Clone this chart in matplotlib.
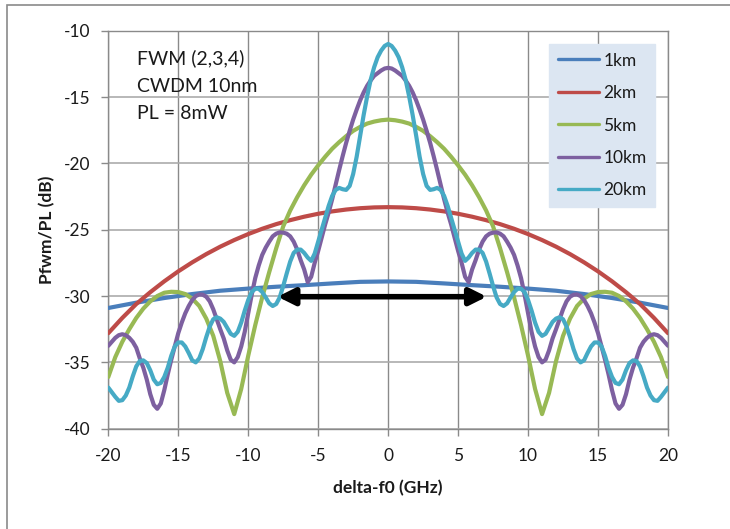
import numpy as np
import matplotlib
matplotlib.use("Agg")
import matplotlib.pyplot as plt
from matplotlib.patches import Rectangle

plt.rcParams['font.family'] = ['Lato', 'DejaVu Sans']
plt.rcParams['axes.unicode_minus'] = False

# curves are symmetric about 0, values read for delta-f0 >= 0 (GHz)
f_1km = [0, 2, 4, 6, 8, 10, 12, 14, 16, 18, 20]
p_1km = [-28.9, -28.93, -29.05, -29.18, -29.3, -29.44, -29.6, -29.85, -30.15, -30.5, -30.9]

f_2km = [0, 1, 2, 3, 4, 5, 6, 7, 8, 9, 10, 11, 12, 13, 14, 15, 16, 17, 18, 19, 20]
p_2km = [-23.3, -23.32, -23.38, -23.48, -23.62, -23.8, -24.02, -24.28, -24.58, -24.93, -25.33,
         -25.78, -26.28, -26.84, -27.46, -28.14, -28.89, -29.71, -30.6, -31.65, -32.8]

f_5km = [0, 0.5, 1, 1.5, 2, 2.5, 3, 3.5, 4, 4.5, 5, 5.5, 6, 6.5, 7, 7.5, 8, 8.5, 9, 9.5,
         10, 10.5, 11, 11.5, 12, 12.5, 13, 13.5, 14, 14.5, 15, 15.5, 16, 16.5, 17, 17.5,
         18, 18.5, 19, 19.5, 20]
p_5km = [-16.7, -16.75, -16.85, -17.0, -17.25, -17.55, -17.95, -18.4, -18.9, -19.5,
         -20.15, -20.85, -21.65, -22.55, -23.55, -24.75, -26.4, -28.2, -30.1, -32.2,
         -34.5, -37.0, -38.9, -37.3, -34.9, -33.0, -31.7, -30.75, -30.2, -29.85,
         -29.7, -29.68, -29.75, -30.0, -30.4, -30.95, -31.65, -32.5, -33.45, -34.6, -36.1]

f_fine = np.linspace(0, 20, 81)  # 0.25 GHz reading grid
p_10km = [-12.8, -12.85, -13.0, -13.2, -13.4, -13.75, -14.15, -14.65, -15.25, -15.95,
          -16.7, -17.55, -18.45, -19.45, -20.5, -21.6, -22.7, -23.7, -24.6, -25.6,
          -26.6, -27.5, -28.55, -28.95, -28.0, -27.3, -26.5, -25.9, -25.5, -25.3,
          -25.22, -25.2, -25.3, -25.5, -25.9, -26.35, -26.9, -27.7, -28.65, -29.9,
          -31.3, -32.7, -33.8, -34.6, -35.0, -34.8, -34.1, -33.2, -32.5, -31.75,
          -31.0, -30.4, -30.05, -29.9, -29.88, -30.0, -30.3, -30.75, -31.3, -32.0,
          -32.8, -33.8, -34.8, -35.9, -37.1, -38.1, -38.5, -38.2, -37.4, -36.3,
          -35.4, -34.7, -33.9, -33.45, -33.15, -32.95, -32.88, -32.95, -33.15, -33.45, -33.75]
p_20km = [-11.0, -11.15, -11.5, -12.0, -12.75, -13.7, -14.95, -16.35, -17.9, -19.5,
          -20.8, -21.7, -22.0, -21.95, -21.85, -22.0, -22.45, -23.2, -24.1, -25.0,
          -25.9, -26.8, -27.35, -27.1, -26.75, -26.5, -26.5, -26.75, -27.4, -28.3,
          -29.25, -30.1, -30.6, -30.75, -30.55, -30.1, -29.7, -29.45, -29.45, -29.7,
          -30.3, -31.1, -32.0, -32.7, -33.0, -32.85, -32.4, -31.95, -31.7, -31.6,
          -31.75, -32.3, -33.1, -34.0, -34.7, -35.0, -34.85, -34.3, -33.8, -33.5,
          -33.5, -33.8, -34.5, -35.4, -36.1, -36.55, -36.65, -36.3, -35.6, -35.05,
          -34.85, -34.9, -35.3, -36.05, -36.9, -37.5, -37.85, -37.9, -37.6, -37.25, -36.9]

labels = ['1km', '2km', '5km', '10km', '20km']
colors = ['#4A7EBB', '#BE4B48', '#98B954', '#7D60A0', '#46AAC5']
series = [(f_1km, p_1km), (f_2km, p_2km), (f_5km, p_5km), (f_fine, p_10km), (f_fine, p_20km)]

x_ticks = [-20, -15, -10, -5, 0, 5, 10, 15, 20]
y_ticks = [-40, -35, -30, -25, -20, -15, -10]
arrow_span = (-7.9, 7.05)
arrow_level = -30.05


def mirror(f, p):
    # rebuild the full symmetric curve from the half that was read
    f = np.asarray(f, dtype=float)
    p = np.asarray(p, dtype=float)
    return np.concatenate([-f[:0:-1], f]), np.concatenate([p[:0:-1], p])


fig = plt.figure(figsize=(7.3, 5.29), dpi=100)
ax = fig.add_axes([0.14836, 0.1896, 0.7667, 0.75236])

for (f, p), lab, col in zip(series, labels, colors):
    xs, ys = mirror(f, p)
    ax.plot(xs, ys, color=col, lw=3.0, label=lab, solid_capstyle='round', zorder=3)

ax.set_xlim(-20, 20)
ax.set_ylim(-40, -10)
ax.set_xticks(x_ticks)
ax.set_yticks(y_ticks)
ax.tick_params(direction='out', length=5, width=1, color='#8a8a8a',
               labelsize=12.5, labelcolor='#1a1a1a')
ax.tick_params(axis='x', pad=9)
ax.tick_params(axis='y', pad=8)
ax.xaxis.grid(True, color='#8a8a8a', lw=1.0)
ax.yaxis.grid(True, color='#ababab', lw=1.2)
ax.set_axisbelow(True)
for s in ax.spines.values():
    s.set_color('#8a8a8a')
    s.set_linewidth(1.0)

ax.set_xlabel('delta-f0 (GHz)', fontsize=12.5, fontweight='bold', color='#1a1a1a')
ax.set_ylabel('Pfwm/PL (dB)', fontsize=12.5, fontweight='bold', color='#1a1a1a')
ax.xaxis.set_label_coords(0.5, -0.128)
ax.yaxis.set_label_coords(-0.094, 0.50)

# double arrow
ax.annotate('', xy=(arrow_span[0], arrow_level), xytext=(arrow_span[1], arrow_level),
            arrowprops=dict(arrowstyle='<|-|>,head_length=1.0,head_width=0.5',
                            mutation_scale=10, lw=4, color='black',
                            shrinkA=0, shrinkB=0), zorder=5)

# text block
for i, line in enumerate(['FWM (2,3,4)', 'CWDM 10nm', 'PL = 8mW']):
    fig.text(136.7 / 730, 1 - (64 + 27.7 * i) / 529, line, fontsize=14,
             color='#1a1a1a', va='baseline', ha='left')

leg = ax.legend(loc='upper right', bbox_to_anchor=(0.977, 0.967), borderaxespad=0,
                fontsize=12.5, frameon=True, fancybox=False, framealpha=1,
                facecolor='#DCE6F2', edgecolor='#DCE6F2', handlelength=2.35,
                handletextpad=0.25, labelspacing=0.95, borderpad=0.5)
for h in leg.get_lines():
    h.set_linewidth(2.4)
for t in leg.get_texts():
    t.set_color('#1a1a1a')

# outer chart frame
fig.patches.append(Rectangle((7 / 730, -0.1), 1.1, 1.1 - 5 / 529, transform=fig.transFigure,
                             fill=False, edgecolor='#8a8a8a', lw=1.2))

fig.savefig('out.png', dpi=100)
